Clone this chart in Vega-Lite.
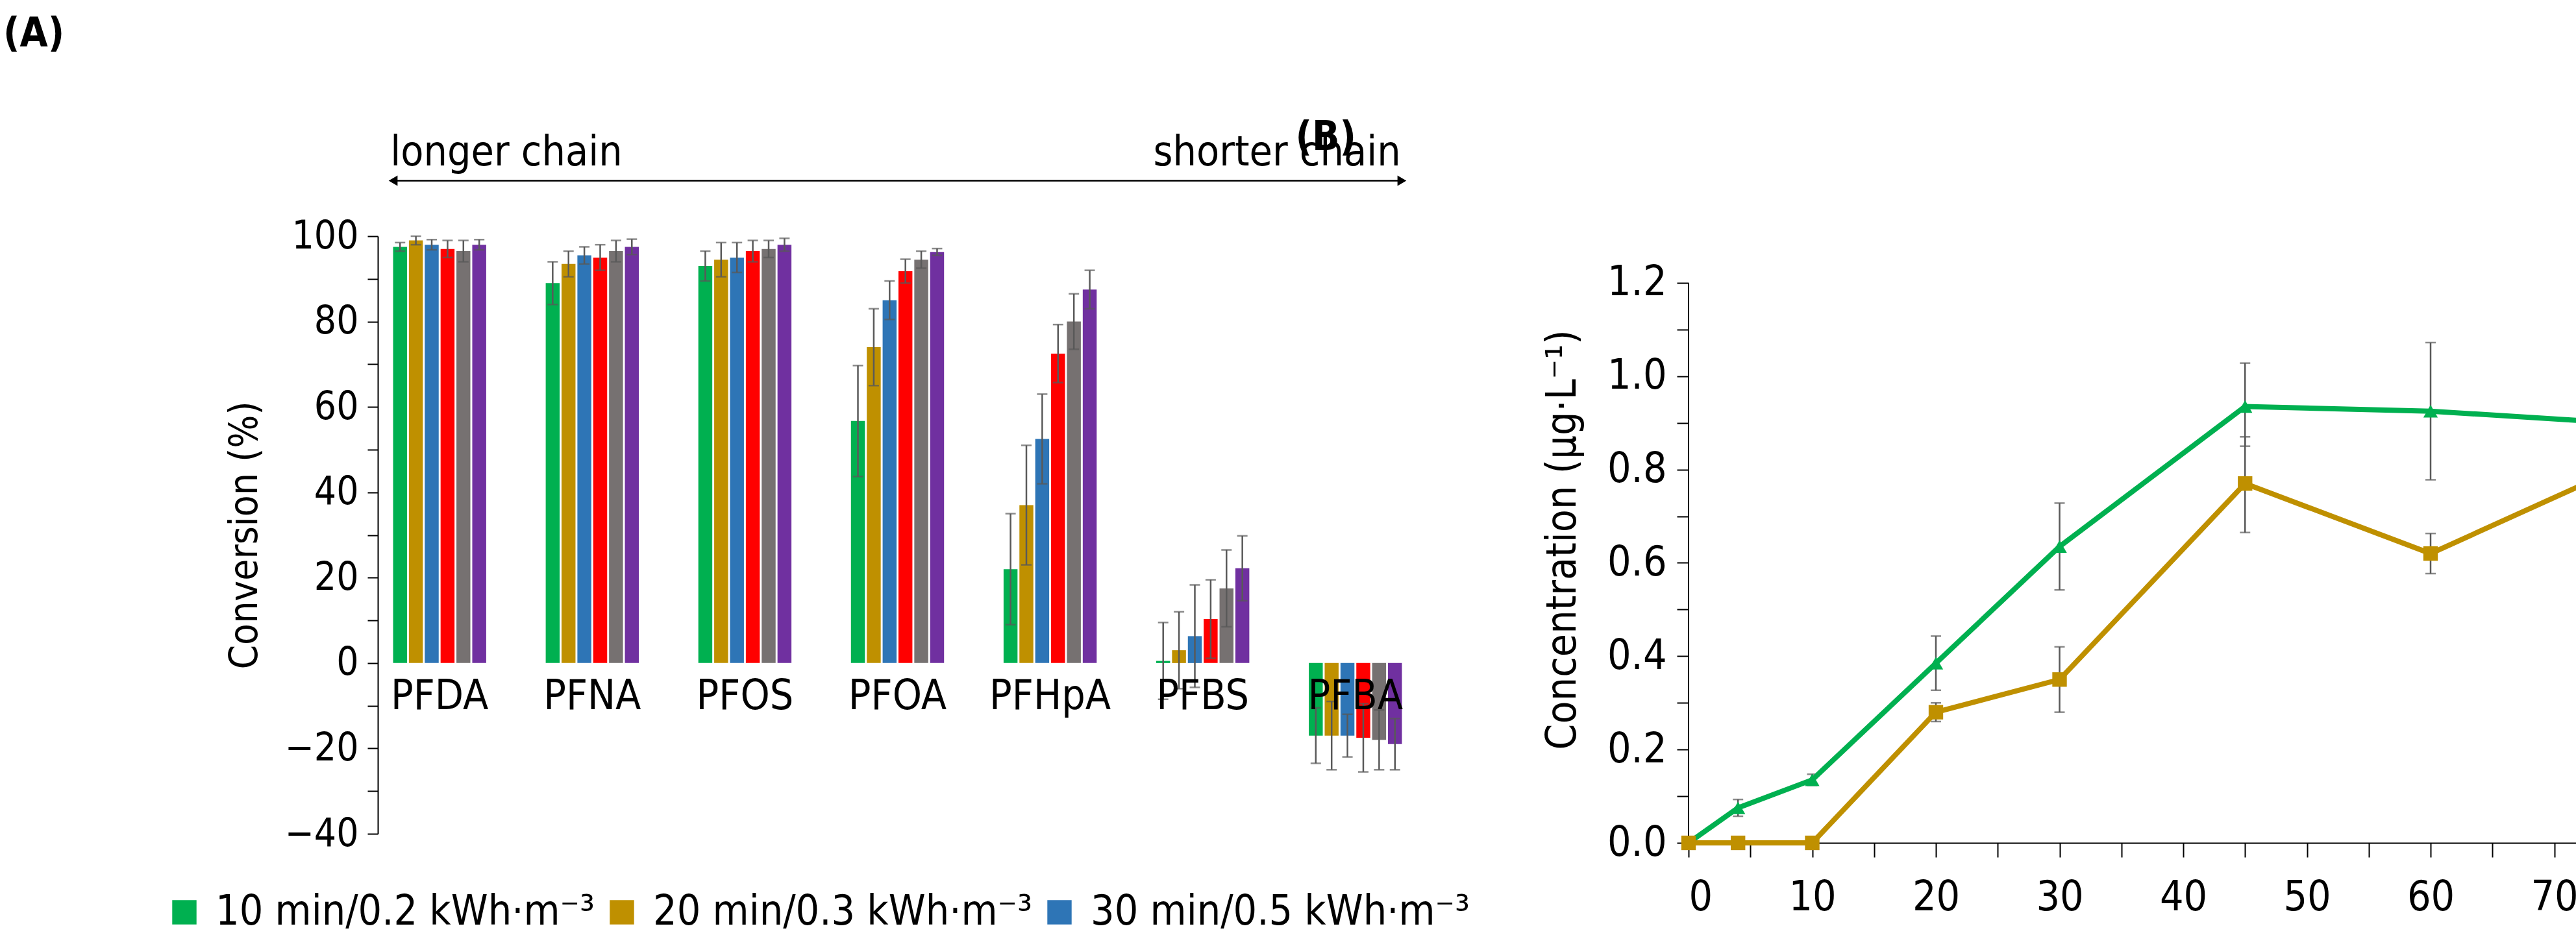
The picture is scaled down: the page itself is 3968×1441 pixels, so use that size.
{
  "$schema": "https://vega.github.io/schema/vega-lite/v6.json",
  "background": "#ffffff",
  "padding": {"left": 5, "top": 20, "right": 5, "bottom": 5},
  "bounds": "flush",
  "spacing": 418,
  "config": {
    "font": "Liberation Sans Narrow, DejaVu Sans Condensed, sans-serif",
    "view": {"stroke": null},
    "axis": {"labelFontSize": 60, "titleFontSize": 60, "titleFontWeight": "normal", "labelColor": "#000", "titleColor": "#000", "domainColor": "#000", "tickColor": "#000", "domainWidth": 2, "tickWidth": 2, "grid": false},
    "legend": {"labelFontSize": 56, "labelColor": "#000", "labelLimit": 700}
  },
  "hconcat": [
    {
      "width": 1601,
      "height": 921,
      "title": {"text": "(A)", "anchor": "start", "frame": "bounds", "dx": -342, "offset": 120, "fontSize": 62, "fontWeight": "bold", "color": "#000"},
      "data": {"values": [
        {"c": "PFDA", "s": "10 min/0.2 kWh·m⁻³", "v": 97.5, "lo": 96.5, "hi": 98.5},
        {"c": "PFDA", "s": "20 min/0.3 kWh·m⁻³", "v": 99, "lo": 98, "hi": 100},
        {"c": "PFDA", "s": "30 min/0.5 kWh·m⁻³", "v": 98, "lo": 96.8, "hi": 99.2},
        {"c": "PFDA", "s": "45 min/0.7 kWh·m⁻³", "v": 97, "lo": 95, "hi": 99},
        {"c": "PFDA", "s": "60 min/1 kWh·m⁻³", "v": 96.5, "lo": 94, "hi": 99},
        {"c": "PFDA", "s": "75 min/1.2 kWh·m⁻³", "v": 98, "lo": 96.8, "hi": 99.2},
        {"c": "PFNA", "s": "10 min/0.2 kWh·m⁻³", "v": 89, "lo": 84, "hi": 94},
        {"c": "PFNA", "s": "20 min/0.3 kWh·m⁻³", "v": 93.5, "lo": 90.5, "hi": 96.5},
        {"c": "PFNA", "s": "30 min/0.5 kWh·m⁻³", "v": 95.5, "lo": 93.5, "hi": 97.5},
        {"c": "PFNA", "s": "45 min/0.7 kWh·m⁻³", "v": 95, "lo": 92, "hi": 98},
        {"c": "PFNA", "s": "60 min/1 kWh·m⁻³", "v": 96.5, "lo": 94, "hi": 99},
        {"c": "PFNA", "s": "75 min/1.2 kWh·m⁻³", "v": 97.5, "lo": 95.7, "hi": 99.3},
        {"c": "PFOS", "s": "10 min/0.2 kWh·m⁻³", "v": 93, "lo": 89.5, "hi": 96.5},
        {"c": "PFOS", "s": "20 min/0.3 kWh·m⁻³", "v": 94.5, "lo": 90.5, "hi": 98.5},
        {"c": "PFOS", "s": "30 min/0.5 kWh·m⁻³", "v": 95, "lo": 91.5, "hi": 98.5},
        {"c": "PFOS", "s": "45 min/0.7 kWh·m⁻³", "v": 96.5, "lo": 94, "hi": 99},
        {"c": "PFOS", "s": "60 min/1 kWh·m⁻³", "v": 97, "lo": 95, "hi": 99},
        {"c": "PFOS", "s": "75 min/1.2 kWh·m⁻³", "v": 98, "lo": 96.5, "hi": 99.5},
        {"c": "PFOA", "s": "10 min/0.2 kWh·m⁻³", "v": 56.7, "lo": 43.7, "hi": 69.7},
        {"c": "PFOA", "s": "20 min/0.3 kWh·m⁻³", "v": 74, "lo": 65, "hi": 83},
        {"c": "PFOA", "s": "30 min/0.5 kWh·m⁻³", "v": 85, "lo": 80.5, "hi": 89.5},
        {"c": "PFOA", "s": "45 min/0.7 kWh·m⁻³", "v": 91.8, "lo": 89, "hi": 94.6},
        {"c": "PFOA", "s": "60 min/1 kWh·m⁻³", "v": 94.5, "lo": 92.5, "hi": 96.5},
        {"c": "PFOA", "s": "75 min/1.2 kWh·m⁻³", "v": 96.3, "lo": 95.5, "hi": 97.1},
        {"c": "PFHpA", "s": "10 min/0.2 kWh·m⁻³", "v": 22, "lo": 9, "hi": 35},
        {"c": "PFHpA", "s": "20 min/0.3 kWh·m⁻³", "v": 37, "lo": 23, "hi": 51},
        {"c": "PFHpA", "s": "30 min/0.5 kWh·m⁻³", "v": 52.5, "lo": 42, "hi": 63},
        {"c": "PFHpA", "s": "45 min/0.7 kWh·m⁻³", "v": 72.5, "lo": 65.7, "hi": 79.3},
        {"c": "PFHpA", "s": "60 min/1 kWh·m⁻³", "v": 80, "lo": 73.5, "hi": 86.5},
        {"c": "PFHpA", "s": "75 min/1.2 kWh·m⁻³", "v": 87.5, "lo": 83, "hi": 92},
        {"c": "PFBS", "s": "10 min/0.2 kWh·m⁻³", "v": 0.5, "lo": -8.5, "hi": 9.5},
        {"c": "PFBS", "s": "20 min/0.3 kWh·m⁻³", "v": 3, "lo": -6, "hi": 12},
        {"c": "PFBS", "s": "30 min/0.5 kWh·m⁻³", "v": 6.3, "lo": -5.7, "hi": 18.3},
        {"c": "PFBS", "s": "45 min/0.7 kWh·m⁻³", "v": 10.3, "lo": 1.1, "hi": 19.5},
        {"c": "PFBS", "s": "60 min/1 kWh·m⁻³", "v": 17.5, "lo": 8.5, "hi": 26.5},
        {"c": "PFBS", "s": "75 min/1.2 kWh·m⁻³", "v": 22.2, "lo": 14.6, "hi": 29.8},
        {"c": "PFBA", "s": "10 min/0.2 kWh·m⁻³", "v": -17, "lo": -23.5, "hi": -10.5},
        {"c": "PFBA", "s": "20 min/0.3 kWh·m⁻³", "v": -17, "lo": -25, "hi": -9},
        {"c": "PFBA", "s": "30 min/0.5 kWh·m⁻³", "v": -17, "lo": -22, "hi": -12},
        {"c": "PFBA", "s": "45 min/0.7 kWh·m⁻³", "v": -17.5, "lo": -25.5, "hi": -9.5},
        {"c": "PFBA", "s": "60 min/1 kWh·m⁻³", "v": -18, "lo": -25, "hi": -11},
        {"c": "PFBA", "s": "75 min/1.2 kWh·m⁻³", "v": -19, "lo": -25, "hi": -13}
      ]},
      "encoding": {
        "x": {"field": "c", "type": "nominal", "sort": null, "axis": null, "scale": {"paddingInner": 0.39, "paddingOuter": 0.1}}
      },
      "layer": [
        {
          "mark": {"type": "bar"},
          "encoding": {
            "xOffset": {"field": "s", "type": "nominal", "sort": null, "scale": {"paddingInner": 0.12}},
            "y": {"field": "v", "type": "quantitative", "scale": {"domain": [-40, 100], "nice": false},
              "axis": {"title": "Conversion (%)", "values": [-40, -30, -20, -10, 0, 10, 20, 30, 40, 50, 60, 70, 80, 90, 100], "labelExpr": "datum.value % 20 == 0 ? datum.label : ''", "tickSize": 16, "labelPadding": 14, "titlePadding": 30}},
            "color": {"field": "s", "type": "nominal", "sort": null,
              "scale": {"range": ["#00b050", "#bf9000", "#2e75b6", "#ff0000", "#767171", "#7030a0"]},
              "legend": {"title": null, "orient": "none", "legendX": -330, "legendY": 1010, "columns": 3, "direction": "horizontal", "symbolType": "square", "symbolSize": 1400, "symbolStrokeWidth": 0, "symbolOpacity": 1, "rowPadding": 50, "columnPadding": 10, "labelOffset": 16}}
          }
        },
        {
          "mark": {"type": "rule", "color": "#595959", "strokeWidth": 2.5},
          "encoding": {
            "xOffset": {"field": "s", "type": "nominal", "sort": null},
            "y": {"field": "lo", "type": "quantitative"},
            "y2": {"field": "hi"}
          }
        },
        {
          "mark": {"type": "tick", "orient": "horizontal", "color": "#595959", "thickness": 2.5, "size": 16},
          "encoding": {
            "xOffset": {"field": "s", "type": "nominal", "sort": null},
            "y": {"field": "lo", "type": "quantitative"}
          }
        },
        {
          "mark": {"type": "tick", "orient": "horizontal", "color": "#595959", "thickness": 2.5, "size": 16},
          "encoding": {
            "xOffset": {"field": "s", "type": "nominal", "sort": null},
            "y": {"field": "hi", "type": "quantitative"}
          }
        },
        {
          "mark": {"type": "rule", "color": "#000", "strokeWidth": 2.5},
          "encoding": {"y": {"datum": 0}}
        },
        {
          "data": {"values": [{"c": "PFDA"}, {"c": "PFNA"}, {"c": "PFOS"}, {"c": "PFOA"}, {"c": "PFHpA"}, {"c": "PFBS"}, {"c": "PFBA"}]},
          "mark": {"type": "text", "fontSize": 64, "baseline": "top", "color": "#000"},
          "encoding": {"y": {"datum": -3}, "text": {"field": "c"}}
        },
        {
          "data": {"values": [{"a": "PFDA", "b": "PFBA"}]},
          "mark": {"type": "rule", "color": "#000", "strokeWidth": 2.5, "clip": false},
          "encoding": {
            "x": {"field": "a", "type": "nominal", "bandPosition": 0},
            "x2": {"field": "b", "bandPosition": 1},
            "y": {"datum": 113}
          }
        },
        {
          "data": {"values": [{"c": "PFDA", "t": "longer chain"}]},
          "mark": {"type": "text", "fontSize": 64, "align": "left", "dx": -76, "color": "#000", "clip": false},
          "encoding": {"y": {"datum": 119.5}, "text": {"field": "t"}}
        },
        {
          "data": {"values": [{"c": "PFBA", "t": "shorter chain"}]},
          "mark": {"type": "text", "fontSize": 64, "align": "right", "dx": 70, "color": "#000", "clip": false},
          "encoding": {"y": {"datum": 119.5}, "text": {"field": "t"}}
        },
        {
          "data": {"values": [{"c": "PFDA"}]},
          "mark": {"type": "point", "filled": true, "color": "#000", "size": 250, "opacity": 1, "shape": "triangle-left"},
          "encoding": {"x": {"field": "c", "type": "nominal", "bandPosition": 0}, "y": {"datum": 113}}
        },
        {
          "data": {"values": [{"c": "PFBA"}]},
          "mark": {"type": "point", "filled": true, "color": "#000", "size": 250, "opacity": 1, "shape": "triangle-right"},
          "encoding": {"x": {"field": "c", "type": "nominal", "bandPosition": 1}, "y": {"datum": 113}}
        }
      ]
    },
    {
      "width": 1524,
      "height": 935,
      "title": {"text": "(B)", "anchor": "start", "frame": "bounds", "dx": -380, "offset": 120, "fontSize": 62, "fontWeight": "bold", "color": "#000"},
      "data": {"values": [
        {"t": 0, "s": "PFHxA", "v": 0, "lo": 0, "hi": 0},
        {"t": 4, "s": "PFHxA", "v": 0.075, "lo": 0.057, "hi": 0.093},
        {"t": 10, "s": "PFHxA", "v": 0.135, "lo": 0.123, "hi": 0.147},
        {"t": 20, "s": "PFHxA", "v": 0.385, "lo": 0.327, "hi": 0.443},
        {"t": 30, "s": "PFHxA", "v": 0.635, "lo": 0.542, "hi": 0.728},
        {"t": 45, "s": "PFHxA", "v": 0.935, "lo": 0.85, "hi": 1.028},
        {"t": 60, "s": "PFHxA", "v": 0.925, "lo": 0.778, "hi": 1.072},
        {"t": 75, "s": "PFHxA", "v": 0.9, "lo": 0.85, "hi": 0.95},
        {"t": 0, "s": "PFPeA", "v": 0, "lo": 0, "hi": 0},
        {"t": 4, "s": "PFPeA", "v": 0, "lo": 0, "hi": 0},
        {"t": 10, "s": "PFPeA", "v": 0, "lo": 0, "hi": 0},
        {"t": 20, "s": "PFPeA", "v": 0.28, "lo": 0.26, "hi": 0.3},
        {"t": 30, "s": "PFPeA", "v": 0.35, "lo": 0.28, "hi": 0.42},
        {"t": 45, "s": "PFPeA", "v": 0.77, "lo": 0.665, "hi": 0.87},
        {"t": 60, "s": "PFPeA", "v": 0.62, "lo": 0.577, "hi": 0.663},
        {"t": 75, "s": "PFPeA", "v": 0.8, "lo": 0.715, "hi": 0.862}
      ]},
      "encoding": {
        "x": {"field": "t", "type": "quantitative", "scale": {"domain": [0, 80], "nice": false},
          "axis": {"title": "Time (min)", "values": [0, 5, 10, 15, 20, 25, 30, 35, 40, 45, 50, 55, 60, 65, 70, 75, 80], "labelExpr": "datum.value % 10 == 0 ? datum.label : ''", "tickSize": 22, "labelPadding": 30, "titlePadding": 70, "labelFontSize": 64, "titleFontSize": 64}}
      },
      "layer": [
        {
          "mark": {"type": "rule", "color": "#000", "strokeWidth": 2},
          "encoding": {"x": {"datum": 0}, "y": {"datum": 0}, "y2": {"datum": 1.2}}
        },
        {
          "mark": {"type": "rule", "color": "#595959", "strokeWidth": 2.5},
          "encoding": {"y": {"field": "lo", "type": "quantitative"}, "y2": {"field": "hi"}}
        },
        {
          "mark": {"type": "tick", "orient": "horizontal", "color": "#595959", "thickness": 2.5, "size": 16},
          "encoding": {"y": {"field": "lo", "type": "quantitative"}}
        },
        {
          "mark": {"type": "tick", "orient": "horizontal", "color": "#595959", "thickness": 2.5, "size": 16},
          "encoding": {"y": {"field": "hi", "type": "quantitative"}}
        },
        {
          "mark": {"type": "line", "strokeWidth": 8, "point": {"filled": true, "size": 500, "opacity": 1}},
          "encoding": {
            "y": {"field": "v", "type": "quantitative", "scale": {"domain": [0, 1.3], "nice": false},
              "axis": {"title": "Concentration (μg·L⁻¹)", "domain": false, "values": [0, 0.1, 0.2, 0.3, 0.4, 0.5, 0.6, 0.7, 0.8, 0.9, 1.0, 1.1, 1.2], "labelExpr": "round(datum.value * 10) % 2 == 0 ? format(datum.value, '.1f') : ''", "tickSize": 18, "labelPadding": 16, "titlePadding": 36, "labelFontSize": 64, "titleFontSize": 64}},
            "color": {"field": "s", "type": "nominal", "scale": {"range": ["#548235", "#2e75b6"]},
              "legend": {"title": null, "orient": "none", "legendX": 150, "legendY": -120, "direction": "horizontal", "columnPadding": 330, "labelFontSize": 64, "symbolStrokeWidth": 8, "symbolSize": 900, "labelOffset": 2}},
            "shape": {"field": "s", "type": "nominal", "scale": {"range": ["triangle-up", "square"]}, "legend": null}
          }
        }
      ]
    }
  ]
}
